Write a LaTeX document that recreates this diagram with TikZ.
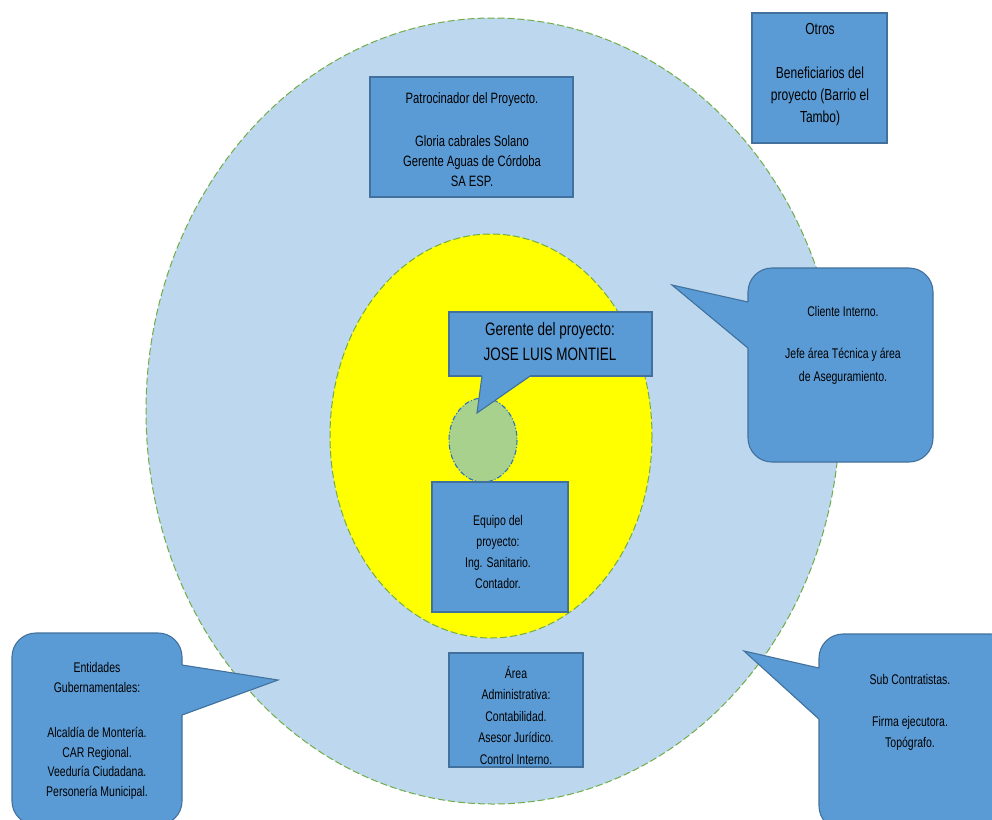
\documentclass[tikz,border=0pt]{standalone}
\usepackage{fontspec}
\setmainfont{Liberation Sans}[FakeStretch=0.75]
\definecolor{outerfill}{HTML}{BDD7EE}
\definecolor{boxblue}{HTML}{5B9BD5}
\definecolor{boxborder}{HTML}{41719C}
\definecolor{dashgreen}{HTML}{70AD47}
\definecolor{coreyellow}{HTML}{FFFF00}
\definecolor{coregreen}{HTML}{A9D18E}
\definecolor{coreline}{HTML}{2E75B6}
\begin{document}
\begin{tikzpicture}[x=1pt,y=-1pt,
  box/.style={draw=boxborder,fill=boxblue,line width=1.1pt,inner sep=0pt},
  rbox/.style={box,rounded corners=24pt},
  tailfill/.style={fill=boxblue},
  tailline/.style={draw=boxborder,line width=1.1pt,line join=miter},
  txt/.style={align=center,text=black,inner sep=0pt}]
\useasboundingbox (0,0) rectangle (992,819);
\clip (0,0) rectangle (992,819);
\fill[white] (0,0) rectangle (992,819);
% rings
\draw[fill=outerfill,draw=dashgreen,line width=1pt,dash pattern=on 7pt off 3pt]
  (493,411) ellipse [x radius=347, y radius=393];
\draw[fill=coreyellow,draw=dashgreen,line width=1pt,dash pattern=on 7pt off 3pt]
  (491,436) ellipse [x radius=161, y radius=202];
\draw[fill=coregreen,draw=coreline,line width=1.1pt,dash pattern=on 5pt off 2pt on 1pt off 2pt]
  (483,440) ellipse [x radius=34, y radius=42];
% plain boxes
\node[box,minimum width=203pt,minimum height=120pt] (patbox) at (471.5,137) {};
\node[box,minimum width=135pt,minimum height=130pt] (otrosbox) at (819.5,78) {};
\node[box,minimum width=136pt,minimum height=130pt] (equipobox) at (500,547) {};
\node[box,minimum width=134pt,minimum height=114pt] (areabox) at (516,710) {};
% Gerente callout
\node[box,minimum width=203pt,minimum height=64pt] (gerbox) at (550.5,344) {};
\coordinate (gertip) at (477,413);
\fill[tailfill] (482,372) -- (482,376.8) -- (gertip) -- (530,376.8) -- (530,372) -- cycle;
\draw[tailline] (482,376) -- (gertip) -- (530,376);
% Cliente callout
\node[rbox,minimum width=185pt,minimum height=194pt] (clibox) at (840.5,365) {};
\coordinate (clitip) at (672,285);
\fill[tailfill] (753,302) -- (747.2,302) -- (clitip) -- (747.2,348) -- (753,348) -- cycle;
\draw[tailline] (748,302) -- (clitip) -- (748,348);
% Entidades callout
\node[rbox,minimum width=170pt,minimum height=192pt] (entbox) at (97,729) {};
\coordinate (enttip) at (278,680);
\fill[tailfill] (177,665) -- (182.8,665) -- (enttip) -- (182.8,715) -- (177,715) -- cycle;
\draw[tailline] (182,665) -- (enttip) -- (182,715);
% Sub contratistas callout
\node[rbox,minimum width=196pt,minimum height=196pt] (subbox) at (917,732) {};
\coordinate (subtip) at (744,651);
\fill[tailfill] (824,668) -- (818.2,668) -- (subtip) -- (818.2,719) -- (824,719) -- cycle;
\draw[tailline] (819,668) -- (subtip) -- (819,719);
% texts
\node[txt,font=\fontsize{15}{20}\selectfont] (pattxt) at (472,140)
  {Patrocinador del Proyecto.\\[23pt]Gloria cabrales Solano\\Gerente Aguas de Córdoba\\SA ESP.};
\node[txt,font=\fontsize{16}{22}\selectfont] (otrostxt) at (820,75)
  {Otros\\[22pt]Beneficiarios del\\proyecto (Barrio el\\Tambo)};
\node[txt,font=\fontsize{18}{25}\selectfont] (gertxt) at (550,342)
  {Gerente del proyecto:\\JOSE LUIS MONTIEL};
\node[txt,font=\fontsize{14}{21}\selectfont] (equipotxt) at (498,552)
  {Equipo del\\proyecto:\\Ing. Sanitario.\\Contador.};
\node[txt,font=\fontsize{14}{23}\selectfont] (clitxt) at (843,345)
  {Cliente Interno.\\[19pt]Jefe área Técnica y área\\de Aseguramiento.};
\node[txt,font=\fontsize{14}{19.5}\selectfont] (enttxt) at (97,731)
  {Entidades\\Gubernamentales:\\[26pt]Alcaldía de Montería.\\CAR Regional.\\Veeduría Ciudadana.\\Personería Municipal.};
\node[txt,font=\fontsize{14}{21.5}\selectfont] (areatxt) at (516,715)
  {Área\\Administrativa:\\Contabilidad.\\Asesor Jurídico.\\Control Interno.};
\node[txt,font=\fontsize{14}{21}\selectfont] (subtxt) at (910,712)
  {Sub Contratistas.\\[21pt]Firma ejecutora.\\Topógrafo.};
\end{tikzpicture}
\end{document}
